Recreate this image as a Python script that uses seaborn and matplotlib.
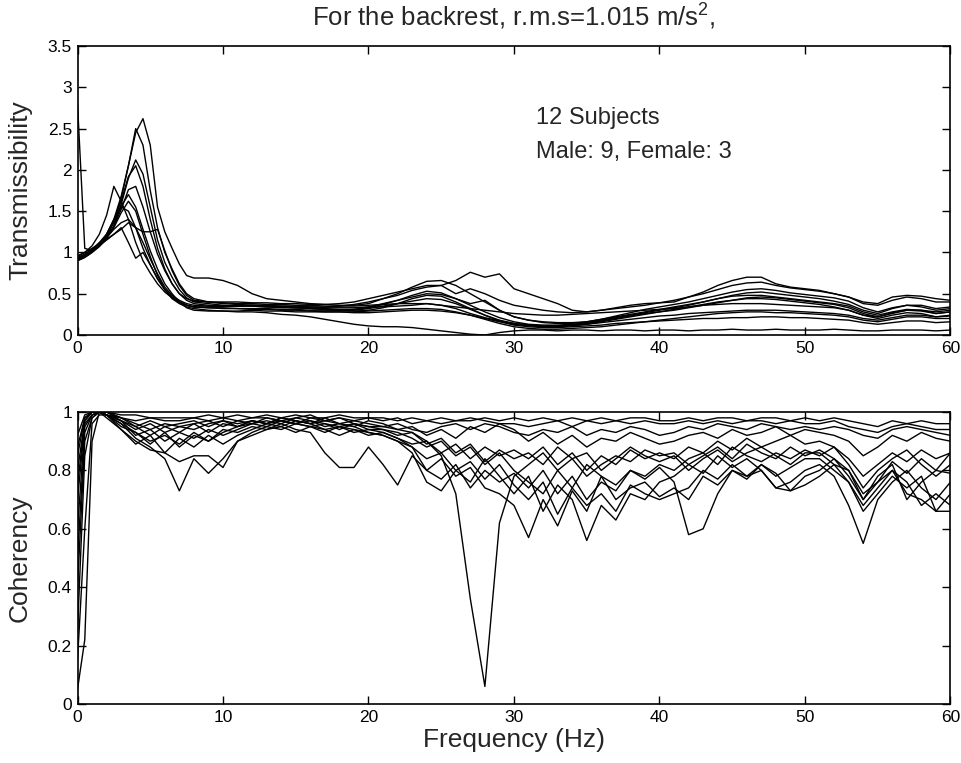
import matplotlib
matplotlib.use("Agg")
import matplotlib.pyplot as plt
import pandas as pd
import seaborn as sns

# ---------------- data: transmissibility (top panel) ----------------
freq_trans = [0, 0.5, 1, 1.5, 2, 2.5, 3, 3.5, 4, 4.5, 5, 5.5, 6, 6.5, 7, 7.5, 8,
              9, 10, 11, 12, 13, 14, 15, 16, 17, 18, 19, 20,
              21, 22, 23, 24, 25, 26, 27, 28, 29, 30,
              31, 32, 33, 34, 35, 36, 37, 38, 39, 40,
              41, 42, 43, 44, 45, 46, 47, 48, 49, 50,
              51, 52, 53, 54, 55, 56, 57, 58, 59, 60]

trans_s01 = [0.92, 0.96, 1.02, 1.10, 1.22, 1.40, 1.68, 2.05, 2.45, 2.62, 2.30, 1.55, 1.25, 1.05, 0.86, 0.72, 0.69,
             0.69, 0.66, 0.60, 0.50, 0.44, 0.42, 0.40, 0.38, 0.37, 0.36, 0.36, 0.38,
             0.44, 0.50, 0.58, 0.65, 0.66, 0.60, 0.50, 0.40, 0.30, 0.22,
             0.18, 0.16, 0.15, 0.15, 0.16, 0.19, 0.23, 0.27, 0.31, 0.34,
             0.37, 0.40, 0.44, 0.48, 0.52, 0.55, 0.56, 0.54, 0.51, 0.49,
             0.47, 0.45, 0.41, 0.33, 0.28, 0.33, 0.36, 0.34, 0.30, 0.32]
trans_s02 = [0.93, 0.97, 1.03, 1.10, 1.20, 1.38, 1.65, 2.05, 2.50, 2.30, 1.75, 1.30, 1.00, 0.80, 0.62, 0.50, 0.44,
             0.40, 0.38, 0.37, 0.36, 0.35, 0.34, 0.33, 0.33, 0.32, 0.31, 0.31, 0.33,
             0.37, 0.42, 0.48, 0.53, 0.51, 0.44, 0.36, 0.28, 0.21, 0.16,
             0.13, 0.12, 0.12, 0.13, 0.15, 0.18, 0.21, 0.24, 0.27, 0.30,
             0.33, 0.36, 0.40, 0.44, 0.47, 0.48, 0.48, 0.46, 0.44, 0.42,
             0.40, 0.38, 0.35, 0.28, 0.24, 0.28, 0.31, 0.30, 0.26, 0.28]
trans_s03 = [0.90, 0.94, 1.00, 1.07, 1.17, 1.32, 1.58, 1.90, 2.12, 1.95, 1.55, 1.15, 0.88, 0.70, 0.55, 0.45, 0.40,
             0.38, 0.36, 0.35, 0.35, 0.34, 0.34, 0.33, 0.32, 0.31, 0.30, 0.29, 0.30,
             0.33, 0.38, 0.44, 0.48, 0.47, 0.40, 0.32, 0.24, 0.17, 0.13,
             0.11, 0.10, 0.10, 0.11, 0.13, 0.16, 0.19, 0.22, 0.25, 0.28,
             0.31, 0.34, 0.37, 0.40, 0.42, 0.44, 0.44, 0.43, 0.41, 0.39,
             0.37, 0.34, 0.30, 0.24, 0.20, 0.24, 0.27, 0.26, 0.22, 0.24]
trans_s04 = [0.94, 0.98, 1.04, 1.12, 1.22, 1.38, 1.62, 1.92, 2.05, 1.80, 1.40, 1.05, 0.80, 0.62, 0.50, 0.42, 0.38,
             0.36, 0.35, 0.35, 0.36, 0.36, 0.35, 0.35, 0.34, 0.34, 0.35, 0.37, 0.40,
             0.44, 0.48, 0.54, 0.58, 0.60, 0.66, 0.76, 0.70, 0.74, 0.56,
             0.50, 0.44, 0.38, 0.30, 0.28, 0.30, 0.33, 0.36, 0.38, 0.39,
             0.40, 0.46, 0.52, 0.60, 0.66, 0.70, 0.70, 0.62, 0.58, 0.56,
             0.54, 0.50, 0.46, 0.40, 0.38, 0.46, 0.48, 0.47, 0.44, 0.42]
trans_s05 = [0.95, 1.00, 1.08, 1.22, 1.45, 1.80, 1.62, 1.40, 1.12, 0.90, 0.75, 0.62, 0.52, 0.45, 0.40, 0.36, 0.34,
             0.33, 0.32, 0.32, 0.31, 0.31, 0.30, 0.30, 0.29, 0.28, 0.28, 0.27, 0.27,
             0.28, 0.29, 0.30, 0.30, 0.29, 0.27, 0.24, 0.20, 0.16, 0.12,
             0.10, 0.09, 0.09, 0.10, 0.11, 0.12, 0.14, 0.15, 0.16, 0.17,
             0.18, 0.19, 0.20, 0.20, 0.21, 0.21, 0.22, 0.22, 0.21, 0.21,
             0.20, 0.19, 0.18, 0.15, 0.13, 0.15, 0.17, 0.17, 0.15, 0.16]
trans_s06 = [0.91, 0.95, 1.01, 1.08, 1.18, 1.32, 1.52, 1.76, 1.80, 1.55, 1.25, 0.98, 0.78, 0.62, 0.50, 0.44, 0.41,
             0.40, 0.40, 0.40, 0.39, 0.39, 0.38, 0.38, 0.37, 0.37, 0.38, 0.40, 0.44,
             0.48, 0.52, 0.56, 0.60, 0.60, 0.50, 0.56, 0.50, 0.42, 0.36,
             0.33, 0.30, 0.28, 0.27, 0.28, 0.30, 0.32, 0.34, 0.36, 0.39,
             0.42, 0.46, 0.50, 0.55, 0.60, 0.63, 0.64, 0.60, 0.57, 0.55,
             0.53, 0.50, 0.46, 0.38, 0.36, 0.42, 0.46, 0.44, 0.40, 0.40]
trans_s07 = [0.92, 0.96, 1.02, 1.09, 1.20, 1.36, 1.56, 1.70, 1.55, 1.28, 1.02, 0.80, 0.62, 0.50, 0.40, 0.33, 0.30,
             0.29, 0.29, 0.29, 0.30, 0.29, 0.29, 0.28, 0.28, 0.28, 0.28, 0.28, 0.29,
             0.30, 0.31, 0.32, 0.32, 0.31, 0.28, 0.24, 0.19, 0.14, 0.10,
             0.08, 0.07, 0.07, 0.08, 0.09, 0.10, 0.12, 0.14, 0.16, 0.18,
             0.20, 0.22, 0.24, 0.26, 0.27, 0.28, 0.28, 0.27, 0.27, 0.26,
             0.25, 0.24, 0.22, 0.18, 0.16, 0.19, 0.22, 0.22, 0.20, 0.20]
trans_s08 = [2.80, 1.05, 1.02, 1.08, 1.18, 1.30, 1.48, 1.62, 1.50, 1.22, 0.95, 0.72, 0.55, 0.44, 0.38, 0.34, 0.32,
             0.30, 0.29, 0.28, 0.28, 0.27, 0.25, 0.24, 0.22, 0.19, 0.16, 0.13, 0.11,
             0.10, 0.10, 0.09, 0.07, 0.05, 0.03, 0.01, 0.00, 0.03, 0.05,
             0.06, 0.06, 0.05, 0.06, 0.06, 0.05, 0.06, 0.06, 0.05, 0.06,
             0.06, 0.05, 0.06, 0.06, 0.07, 0.06, 0.06, 0.07, 0.06, 0.06,
             0.06, 0.07, 0.06, 0.05, 0.05, 0.06, 0.06, 0.06, 0.05, 0.06]
trans_s09 = [0.90, 0.94, 1.00, 1.08, 1.22, 1.40, 1.55, 1.50, 1.30, 1.05, 0.85, 0.68, 0.55, 0.46, 0.40, 0.36, 0.34,
             0.34, 0.35, 0.35, 0.35, 0.34, 0.33, 0.33, 0.32, 0.31, 0.30, 0.30, 0.32,
             0.35, 0.38, 0.41, 0.44, 0.43, 0.38, 0.31, 0.24, 0.18, 0.14,
             0.12, 0.11, 0.11, 0.12, 0.14, 0.17, 0.20, 0.23, 0.26, 0.28,
             0.30, 0.33, 0.36, 0.39, 0.42, 0.45, 0.46, 0.45, 0.43, 0.41,
             0.39, 0.37, 0.33, 0.26, 0.22, 0.27, 0.30, 0.29, 0.26, 0.28]
trans_s10 = [0.93, 0.97, 1.03, 1.10, 1.18, 1.28, 1.36, 1.40, 1.30, 1.12, 0.92, 0.74, 0.58, 0.48, 0.42, 0.38, 0.36,
             0.35, 0.35, 0.36, 0.36, 0.35, 0.35, 0.34, 0.34, 0.33, 0.33, 0.33, 0.34,
             0.34, 0.35, 0.36, 0.38, 0.36, 0.32, 0.26, 0.21, 0.17, 0.14,
             0.12, 0.11, 0.11, 0.12, 0.13, 0.15, 0.17, 0.19, 0.21, 0.23,
             0.24, 0.26, 0.27, 0.28, 0.29, 0.30, 0.30, 0.30, 0.29, 0.28,
             0.27, 0.26, 0.24, 0.20, 0.18, 0.21, 0.24, 0.24, 0.22, 0.23]
trans_s11 = [0.96, 1.00, 1.05, 1.10, 1.16, 1.22, 1.28, 1.36, 1.30, 1.25, 1.25, 1.28, 1.02, 0.78, 0.60, 0.48, 0.42,
             0.40, 0.39, 0.38, 0.38, 0.37, 0.37, 0.36, 0.36, 0.35, 0.35, 0.35, 0.36,
             0.37, 0.38, 0.38, 0.38, 0.36, 0.34, 0.32, 0.30, 0.28, 0.26,
             0.25, 0.24, 0.24, 0.25, 0.26, 0.27, 0.28, 0.29, 0.30, 0.31,
             0.32, 0.34, 0.36, 0.37, 0.38, 0.38, 0.38, 0.37, 0.36, 0.35,
             0.34, 0.33, 0.30, 0.24, 0.22, 0.26, 0.30, 0.30, 0.28, 0.30]
trans_s12 = [0.92, 0.96, 1.02, 1.08, 1.15, 1.22, 1.30, 1.12, 0.93, 1.00, 0.85, 0.68, 0.55, 0.46, 0.40, 0.36, 0.34,
             0.33, 0.33, 0.32, 0.32, 0.32, 0.31, 0.31, 0.30, 0.30, 0.30, 0.31, 0.34,
             0.38, 0.42, 0.46, 0.50, 0.49, 0.44, 0.38, 0.42, 0.30, 0.22,
             0.18, 0.15, 0.14, 0.14, 0.16, 0.19, 0.22, 0.25, 0.28, 0.31,
             0.34, 0.37, 0.40, 0.44, 0.48, 0.51, 0.52, 0.50, 0.48, 0.46,
             0.44, 0.41, 0.37, 0.30, 0.26, 0.32, 0.36, 0.36, 0.32, 0.34]

# ---------------- data: coherency (bottom panel) ----------------
freq_coh = [0, 0.5, 1, 1.5,
            2, 3, 4, 5, 6, 7, 8, 9, 10,
            11, 12, 13, 14, 15, 16, 17, 18, 19, 20,
            21, 22, 23, 24, 25, 26, 27, 28, 29, 30,
            31, 32, 33, 34, 35, 36, 37, 38, 39, 40,
            41, 42, 43, 44, 45, 46, 47, 48, 49, 50,
            51, 52, 53, 54, 55, 56, 57, 58, 59, 60]

coh_s01 = [0.92, 0.99, 1.00, 1.00,
           1.00, 0.99, 0.99, 0.98, 0.98, 0.98, 0.98, 0.99, 0.98,
           0.99, 0.98, 0.99, 0.98, 0.99, 0.98, 0.98, 0.99, 0.98, 0.98,
           0.98, 0.97, 0.98, 0.97, 0.98, 0.97, 0.97, 0.98, 0.97, 0.98,
           0.97, 0.98, 0.97, 0.98, 0.97, 0.98, 0.97, 0.98, 0.98, 0.97,
           0.97, 0.98, 0.97, 0.98, 0.98, 0.97, 0.98, 0.98, 0.97, 0.98,
           0.97, 0.98, 0.97, 0.96, 0.95, 0.97, 0.96, 0.97, 0.96, 0.96]
coh_s02 = [0.85, 0.98, 1.00, 1.00,
           0.99, 0.98, 0.97, 0.98, 0.97, 0.97, 0.98, 0.97, 0.98,
           0.97, 0.98, 0.98, 0.97, 0.98, 0.99, 0.97, 0.98, 0.97, 0.98,
           0.97, 0.98, 0.96, 0.97, 0.96, 0.97, 0.98, 0.97, 0.96, 0.96,
           0.95, 0.96, 0.97, 0.95, 0.97, 0.96, 0.97, 0.96, 0.97, 0.96,
           0.96, 0.97, 0.96, 0.97, 0.96, 0.97, 0.97, 0.96, 0.97, 0.96,
           0.96, 0.97, 0.95, 0.94, 0.93, 0.95, 0.96, 0.95, 0.94, 0.94]
coh_s03 = [0.80, 0.97, 1.00, 1.00,
           1.00, 0.98, 0.96, 0.94, 0.96, 0.95, 0.96, 0.97, 0.95,
           0.97, 0.96, 0.98, 0.97, 0.96, 0.98, 0.97, 0.96, 0.97, 0.96,
           0.95, 0.96, 0.94, 0.93, 0.95, 0.96, 0.94, 0.96, 0.95, 0.93,
           0.92, 0.94, 0.93, 0.95, 0.92, 0.94, 0.93, 0.95, 0.94, 0.92,
           0.93, 0.95, 0.94, 0.96, 0.95, 0.94, 0.96, 0.95, 0.94, 0.95,
           0.94, 0.95, 0.94, 0.92, 0.91, 0.94, 0.95, 0.94, 0.93, 0.92]
coh_s04 = [0.70, 0.96, 0.99, 1.00,
           0.99, 0.97, 0.94, 0.96, 0.93, 0.95, 0.94, 0.96, 0.97,
           0.95, 0.97, 0.96, 0.98, 0.97, 0.96, 0.98, 0.96, 0.95, 0.97,
           0.96, 0.94, 0.95, 0.92, 0.94, 0.91, 0.95, 0.93, 0.96, 0.94,
           0.90, 0.93, 0.89, 0.92, 0.88, 0.91, 0.90, 0.93, 0.91, 0.89,
           0.90, 0.92, 0.93, 0.91, 0.94, 0.92, 0.93, 0.95, 0.92, 0.94,
           0.93, 0.92, 0.90, 0.85, 0.88, 0.92, 0.90, 0.93, 0.91, 0.90]
coh_s05 = [0.60, 0.95, 0.99, 1.00,
           0.99, 0.96, 0.91, 0.88, 0.84, 0.73, 0.84, 0.79, 0.84,
           0.90, 0.93, 0.95, 0.94, 0.96, 0.95, 0.93, 0.95, 0.94, 0.92,
           0.93, 0.91, 0.89, 0.90, 0.86, 0.89, 0.84, 0.88, 0.85, 0.87,
           0.84, 0.88, 0.82, 0.86, 0.80, 0.85, 0.82, 0.87, 0.84, 0.86,
           0.84, 0.88, 0.86, 0.90, 0.87, 0.91, 0.88, 0.90, 0.92, 0.89,
           0.90, 0.88, 0.84, 0.78, 0.82, 0.86, 0.83, 0.87, 0.84, 0.86]
coh_s06 = [0.50, 0.93, 0.99, 1.00,
           0.99, 0.95, 0.93, 0.90, 0.92, 0.89, 0.93, 0.90, 0.94,
           0.93, 0.95, 0.94, 0.96, 0.94, 0.93, 0.86, 0.81, 0.81, 0.88,
           0.82, 0.75, 0.85, 0.80, 0.77, 0.82, 0.74, 0.80, 0.76, 0.79,
           0.74, 0.80, 0.72, 0.78, 0.70, 0.76, 0.73, 0.80, 0.78, 0.82,
           0.80, 0.84, 0.86, 0.82, 0.88, 0.85, 0.83, 0.86, 0.84, 0.87,
           0.85, 0.88, 0.82, 0.74, 0.80, 0.84, 0.87, 0.82, 0.78, 0.82]
coh_s07 = [0.40, 0.90, 0.98, 1.00,
           0.99, 0.97, 0.92, 0.94, 0.90, 0.93, 0.91, 0.94, 0.92,
           0.94, 0.96, 0.95, 0.97, 0.96, 0.95, 0.96, 0.94, 0.96, 0.95,
           0.95, 0.94, 0.93, 0.90, 0.85, 0.72, 0.36, 0.06, 0.62, 0.78,
           0.82, 0.86, 0.80, 0.84, 0.78, 0.82, 0.85, 0.83, 0.87, 0.85,
           0.86, 0.82, 0.85, 0.88, 0.84, 0.89, 0.86, 0.84, 0.88, 0.85,
           0.87, 0.84, 0.80, 0.70, 0.76, 0.83, 0.79, 0.84, 0.80, 0.79]
coh_s08 = [0.25, 0.85, 0.98, 1.00,
           0.98, 0.94, 0.90, 0.87, 0.86, 0.83, 0.85, 0.85, 0.81,
           0.90, 0.92, 0.94, 0.95, 0.93, 0.95, 0.94, 0.92, 0.94, 0.93,
           0.92, 0.90, 0.88, 0.84, 0.86, 0.80, 0.83, 0.77, 0.82, 0.75,
           0.70, 0.76, 0.65, 0.74, 0.68, 0.72, 0.66, 0.75, 0.72, 0.70,
           0.72, 0.74, 0.80, 0.77, 0.82, 0.78, 0.80, 0.74, 0.76, 0.80,
           0.82, 0.78, 0.68, 0.55, 0.70, 0.76, 0.80, 0.74, 0.70, 0.76]
coh_s09 = [0.88, 0.98, 1.00, 1.00,
           1.00, 0.98, 0.95, 0.97, 0.95, 0.96, 0.97, 0.95, 0.97,
           0.96, 0.97, 0.96, 0.98, 0.97, 0.96, 0.97, 0.98, 0.96, 0.95,
           0.94, 0.93, 0.91, 0.88, 0.90, 0.85, 0.88, 0.82, 0.86, 0.80,
           0.76, 0.72, 0.80, 0.74, 0.82, 0.78, 0.75, 0.80, 0.77, 0.81,
           0.76, 0.58, 0.60, 0.72, 0.80, 0.78, 0.82, 0.79, 0.73, 0.75,
           0.78, 0.82, 0.76, 0.68, 0.74, 0.80, 0.76, 0.68, 0.72, 0.68]
coh_s10 = [0.15, 0.60, 0.96, 0.99,
           0.99, 0.94, 0.89, 0.92, 0.86, 0.91, 0.88, 0.92, 0.89,
           0.92, 0.94, 0.96, 0.95, 0.97, 0.96, 0.94, 0.95, 0.93, 0.94,
           0.93, 0.91, 0.88, 0.80, 0.84, 0.78, 0.81, 0.74, 0.72, 0.68,
           0.57, 0.70, 0.61, 0.73, 0.66, 0.78, 0.70, 0.74, 0.76, 0.71,
           0.74, 0.70, 0.78, 0.75, 0.80, 0.77, 0.82, 0.78, 0.81, 0.84,
           0.84, 0.80, 0.76, 0.66, 0.72, 0.78, 0.74, 0.78, 0.66, 0.72]
coh_s11 = [0.05, 0.22, 0.90, 1.00,
           0.99, 0.96, 0.93, 0.89, 0.93, 0.88, 0.92, 0.90, 0.93,
           0.95, 0.96, 0.97, 0.96, 0.98, 0.97, 0.95, 0.96, 0.95, 0.93,
           0.92, 0.90, 0.86, 0.76, 0.73, 0.80, 0.76, 0.84, 0.78, 0.72,
           0.78, 0.66, 0.75, 0.70, 0.56, 0.68, 0.63, 0.72, 0.70, 0.76,
           0.78, 0.82, 0.79, 0.85, 0.81, 0.84, 0.80, 0.74, 0.73, 0.78,
           0.80, 0.84, 0.78, 0.70, 0.78, 0.82, 0.70, 0.76, 0.80, 0.86]
coh_s12 = [0.75, 0.97, 1.00, 1.00,
           1.00, 0.97, 0.95, 0.92, 0.95, 0.93, 0.96, 0.93, 0.96,
           0.95, 0.97, 0.96, 0.97, 0.96, 0.97, 0.96, 0.95, 0.96, 0.94,
           0.94, 0.92, 0.93, 0.89, 0.91, 0.86, 0.89, 0.83, 0.87, 0.84,
           0.86, 0.82, 0.88, 0.84, 0.86, 0.80, 0.84, 0.88, 0.85, 0.83,
           0.85, 0.80, 0.84, 0.87, 0.83, 0.86, 0.88, 0.85, 0.82, 0.86,
           0.86, 0.82, 0.80, 0.72, 0.76, 0.80, 0.72, 0.70, 0.66, 0.66]

subjects = ["S01", "S02", "S03", "S04", "S05", "S06",
            "S07", "S08", "S09", "S10", "S11", "S12"]
trans_curves = [trans_s01, trans_s02, trans_s03, trans_s04, trans_s05, trans_s06,
                trans_s07, trans_s08, trans_s09, trans_s10, trans_s11, trans_s12]
coh_curves = [coh_s01, coh_s02, coh_s03, coh_s04, coh_s05, coh_s06,
              coh_s07, coh_s08, coh_s09, coh_s10, coh_s11, coh_s12]

trans_ticks = [0, 0.5, 1, 1.5, 2, 2.5, 3, 3.5]
trans_ticklabels = ["0", "0.5", "1", "1.5", "2", "2.5", "3", "3.5"]
coh_ticks = [0, 0.2, 0.4, 0.6, 0.8, 1]
coh_ticklabels = ["0", "0.2", "0.4", "0.6", "0.8", "1"]
freq_ticks = [0, 10, 20, 30, 40, 50, 60]
freq_ticklabels = ["0", "10", "20", "30", "40", "50", "60"]

title_text = "For the backrest, r.m.s=1.015 m/s$^{2}$,"
note_lines = ["12 Subjects", "Male: 9, Female: 3"]


def to_long(freq, curves):
    rows = []
    for subj, vals in zip(subjects, curves):
        for f, v in zip(freq, vals):
            rows.append((subj, f, v))
    return pd.DataFrame(rows, columns=["subject", "freq", "value"])


df_trans = to_long(freq_trans, trans_curves)
df_coh = to_long(freq_coh, coh_curves)

sns.set_style("ticks")
plt.rcParams["font.family"] = ["Liberation Sans", "DejaVu Sans"]
plt.rcParams["mathtext.fontset"] = "custom"
plt.rcParams["mathtext.rm"] = "Liberation Sans"

fig = plt.figure(figsize=(9.62, 7.63), dpi=100)
W, H = 962.0, 763.0
ax1 = fig.add_axes([77.5 / W, 1 - 335 / H, 873 / W, 289 / H])
ax2 = fig.add_axes([77.5 / W, 1 - 704 / H, 873 / W, 292 / H])

sns.lineplot(data=df_trans, x="freq", y="value", units="subject", estimator=None,
             color="black", linewidth=1.0, ax=ax1, legend=False, sort=False)
sns.lineplot(data=df_coh, x="freq", y="value", units="subject", estimator=None,
             color="black", linewidth=1.0, ax=ax2, legend=False, sort=False)

for ax, yt, ytl, ylim, ylab in [(ax1, trans_ticks, trans_ticklabels, (0, 3.5), "Transmissibility"),
                                (ax2, coh_ticks, coh_ticklabels, (0, 1), "Coherency")]:
    ax.set_xlim(0, 60)
    ax.set_ylim(*ylim)
    ax.set_xticks(freq_ticks)
    ax.set_xticklabels(freq_ticklabels)
    ax.set_yticks(yt)
    ax.set_yticklabels(ytl)
    ax.tick_params(direction="in", top=True, right=True, length=6, width=1.0,
                   labelsize=12.5, pad=4, colors="black")
    for sp in ax.spines.values():
        sp.set_visible(True)
        sp.set_linewidth(1.2)
        sp.set_color("black")
    ax.set_xlabel("")
    ax.set_ylabel(ylab, fontsize=19)
    ax.yaxis.set_label_coords(-0.052, 0.5)

ax2.set_xlabel("Frequency (Hz)", fontsize=19)
ax2.xaxis.set_label_coords(0.5, -0.083)

fig.text(514 / W, 1 - 16 / H, title_text, ha="center", va="center", fontsize=18.5)
ax1.text(31.5, 2.63, note_lines[0], ha="left", va="center", fontsize=17)
ax1.text(31.5, 2.22, note_lines[1], ha="left", va="center", fontsize=17)

fig.savefig("out.png", dpi=100)
